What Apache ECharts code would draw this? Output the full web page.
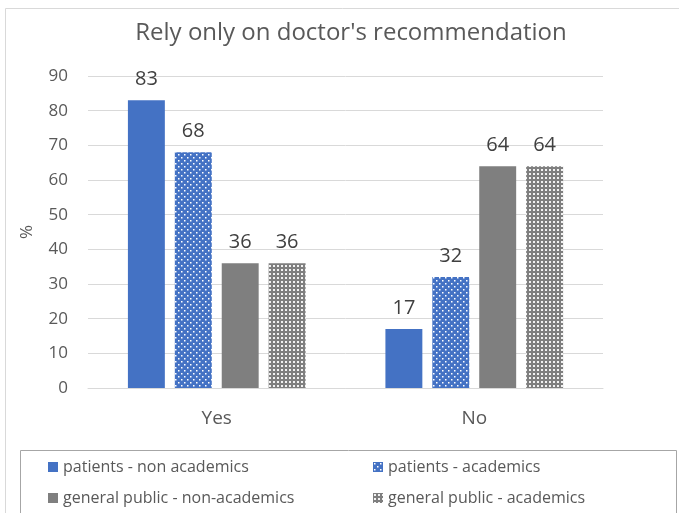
<!DOCTYPE html>
<html>
<head>
<meta charset="utf-8">
<script src="https://cdn.jsdelivr.net/npm/echarts@6/dist/echarts.min.js"></script>
<style>
  html, body { margin: 0; padding: 0; background: #fff; }
  #chart { width: 679px; height: 513px; }
</style>
</head>
<body>
<div id="chart"></div>
<script>
const categories = ['Yes', 'No']
const seriesNames = [
  'patients - non academics',
  'patients - academics',
  'general public - non-academics',
  'general public - academics'
]
const patientsNonAcademics = [83, 17]
const patientsAcademics = [68, 32]
const publicNonAcademics = [36, 64]
const publicAcademics = [36, 64]
const yTicks = [0, 10, 20, 30, 40, 50, 60, 70, 80, 90]

const FONT = '"Open Sans", "Noto Sans", sans-serif'
const BLUE = '#4472C4'
const GRAY = '#7F7F7F'

// dotted fill for the "academics" bars
function dotPattern(bg) {
  const c = document.createElement('canvas')
  c.width = 6; c.height = 6
  const g = c.getContext('2d')
  g.fillStyle = bg
  g.fillRect(0, 0, 6, 6)
  g.fillStyle = '#fff'
  g.fillRect(1, 1, 1.5, 1.5)
  g.fillRect(4, 4, 1.5, 1.5)
  return { image: c, repeat: 'repeat' }
}
function gridPattern(bg) {
  const c = document.createElement('canvas')
  c.width = 4; c.height = 4
  const g = c.getContext('2d')
  g.fillStyle = bg
  g.fillRect(0, 0, 4, 4)
  g.fillStyle = '#f2f2f2'
  g.fillRect(1, 1, 2, 2)
  return { image: c, repeat: 'repeat' }
}

const fills = [BLUE, dotPattern(BLUE), GRAY, gridPattern(GRAY)]
const values = [patientsNonAcademics, patientsAcademics, publicNonAcademics, publicAcademics]

const myChart = echarts.init(document.getElementById('chart'))

const option = {
  animation: false,
  title: {
    text: "Rely only on doctor's recommendation",
    left: 346,
    top: 16,
    textAlign: 'center',
    textStyle: { fontFamily: FONT, fontSize: 24, fontWeight: 'normal', color: '#595959' }
  },
  graphic: [
    {
      type: 'rect', silent: true, z: -10,
      shape: { x: 5.5, y: 8.5, width: 720, height: 600 },
      style: { fill: 'none', stroke: '#d9d9d9', lineWidth: 1 }
    },
    {
      type: 'rect', silent: true, z: -10,
      shape: { x: 20.5, y: 450.5, width: 656, height: 100 },
      style: { fill: 'none', stroke: '#a6a6a6', lineWidth: 1 }
    }
  ],
  legend: {
    left: 43,
    top: 454,
    width: 680,
    itemWidth: 10,
    itemHeight: 10,
    itemGap: 15,
    icon: 'rect',
    data: seriesNames,
    textStyle: { fontFamily: FONT, fontSize: 16, color: '#595959', width: 295, lineHeight: 16 }
  },
  grid: { left: 88, right: 76, top: 76, bottom: 125 },
  xAxis: {
    type: 'category',
    data: categories,
    axisLine: { lineStyle: { color: '#d9d9d9' } },
    axisTick: { show: false },
    axisLabel: { margin: 21, fontFamily: FONT, fontSize: 19, color: '#595959' }
  },
  yAxis: {
    type: 'value',
    min: yTicks[0],
    max: yTicks[yTicks.length - 1],
    interval: 10,
    name: '%',
    nameLocation: 'middle',
    nameGap: 52,
    nameTextStyle: { fontFamily: FONT, fontSize: 17, color: '#595959' },
    axisLine: { show: false },
    axisTick: { show: false },
    axisLabel: { margin: 20, fontFamily: FONT, fontSize: 17, color: '#595959' },
    splitLine: { lineStyle: { color: '#d9d9d9' } }
  },
  series: seriesNames.map((name, i) => ({
    name,
    type: 'bar',
    data: values[i],
    barGap: '27%',
    barCategoryGap: '31%',
    itemStyle: { color: fills[i] },
    label: {
      show: true,
      position: 'top',
      distance: 11,
      fontFamily: FONT,
      fontSize: 20,
      color: '#404040'
    }
  }))
}

option && myChart.setOption(option)
</script>
</body>
</html>
